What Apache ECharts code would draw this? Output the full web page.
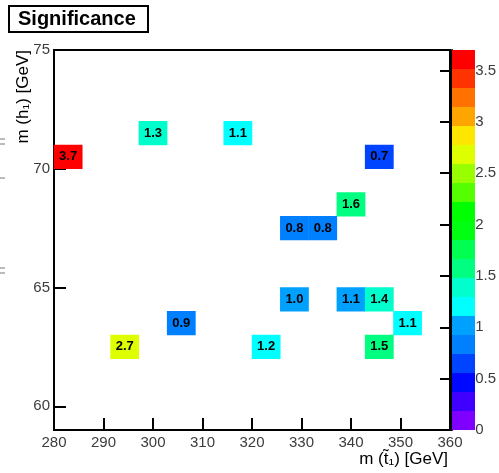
<!DOCTYPE html>
<html><head><meta charset="utf-8">
<script src="https://cdn.jsdelivr.net/npm/echarts@6/dist/echarts.min.js"></script>
<style>html,body{margin:0;padding:0;background:#fff}#c{width:499px;height:473px}</style>
</head><body><div id="c"></div>
<script>
// ---- data ----
const xBins = ['280.0','285.7','291.4','297.1','302.9','308.6','314.3','320.0','325.7','331.4','337.1','342.9','348.6','354.3'];
const yBins = ['59','60','61','62','63','64','65','66','67','68','69','70','71','72','73','74'];
const cellX = [0, 3, 6, 11, 10, 8, 9, 8, 10, 11, 12, 11, 7, 2, 4];
const cellY = ['70','71','71','70','68','67','67','64','64','64','63','62','62','62','63'];
const cellValue = [3.70, 1.32, 1.13, 0.70, 1.58, 0.82, 0.78, 1.00, 1.08, 1.38, 1.12, 1.52, 1.20, 2.70, 0.90];
const xTicks = [280, 290, 300, 310, 320, 330, 340, 350, 360];
const yTicks = [60, 65, 70, 75];
const zTicks = [0, 0.5, 1, 1.5, 2, 2.5, 3, 3.5];
const zMax = 3.7;
const palette = ['#7f00ff','#3f00ff','#0008ff','#0044ff','#0080ff','#00a0ff','#00ffff','#00ffcc',
                 '#00ff80','#00ff50','#00ff10','#00ff00','#55ff00','#99ff00','#ddff00','#ffe600',
                 '#ffa500','#ff7200','#ff3300','#ff0000'];

const cells = cellX.map((x, i) => [x, yBins.indexOf(cellY[i]), cellValue[i]]);
const nLev = palette.length;
const pieces = palette.map((c, i) => ({min: zMax * i / nLev, max: zMax * (i + 1) / nLev, color: c}));

const FONT = 'Liberation Sans, Arial, sans-serif';
const labelGray = '#3c3c3c';

const chart = echarts.init(document.getElementById('c'), null, {renderer: 'canvas'});
chart.setOption({
  animation: false,
  backgroundColor: '#fff',
  grid: [
    {left: 54, top: 50, width: 396, height: 380, show: true, borderColor: '#000', borderWidth: 2, backgroundColor: 'transparent'},
    {left: 452, top: 50, width: 23, height: 380}
  ],
  xAxis: [
    {type: 'value', gridIndex: 0, min: xTicks[0], max: xTicks[xTicks.length - 1], interval: 10,
     axisLine: {show: true, onZero: false, lineStyle: {color: '#000', width: 2}},
     axisTick: {show: true, inside: true, length: 12, lineStyle: {color: '#000', width: 2}},
     axisLabel: {color: labelGray, fontSize: 15, fontFamily: FONT, margin: 5},
     splitLine: {show: false}},
    {type: 'category', gridIndex: 0, data: xBins, show: false, boundaryGap: true},
    {type: 'value', gridIndex: 1, show: false, min: 0, max: 1}
  ],
  yAxis: [
    {type: 'value', gridIndex: 0, min: 59, max: 75,
     axisLine: {show: true, onZero: false, lineStyle: {color: '#000', width: 2}},
     axisTick: {show: true, inside: true, length: 12, customValues: yTicks, lineStyle: {color: '#000', width: 2}},
     axisLabel: {color: labelGray, fontSize: 15, fontFamily: FONT, margin: 4, customValues: yTicks},
     splitLine: {show: false}},
    {type: 'category', gridIndex: 0, data: yBins, show: false, boundaryGap: true},
    {type: 'value', gridIndex: 1, position: 'right', min: 0, max: zMax, interval: 0.5,
     axisLine: {show: true, lineStyle: {color: '#000', width: 2}},
     axisTick: {show: true, inside: true, length: 12, lineStyle: {color: '#000', width: 2}},
     axisLabel: {color: labelGray, fontSize: 15, fontFamily: FONT, margin: 3, showMaxLabel: false},
     splitLine: {show: false}}
  ],
  visualMap: {
    type: 'piecewise', pieces: pieces, seriesIndex: 0, dimension: 2,
    left: 452, top: 50, padding: 0, itemWidth: 23, itemHeight: 19, itemGap: 0,
    itemSymbol: 'rect', showLabel: false, selectedMode: false, orient: 'vertical'
  },
  series: [{
    type: 'heatmap', xAxisIndex: 1, yAxisIndex: 1, data: cells,
    label: {show: true, color: '#000', fontSize: 13, fontWeight: 'bold', fontFamily: FONT,
            formatter: p => p.value[2].toFixed(1)},
    emphasis: {disabled: true}
  }],
  graphic: [
    {type: 'rect', shape: {x: 9, y: 6, width: 139, height: 26}, style: {fill: '#fff', stroke: '#000', lineWidth: 2}},
    {type: 'text', x: 18, y: 19, style: {text: 'Significance', font: 'bold 20px ' + FONT, fill: '#000', textAlign: 'left', textVerticalAlign: 'middle'}},
    {type: 'text', x: 448, y: 459, style: {text: 'm (t\u0303\u2081) [GeV]', font: '17px ' + FONT, fill: '#000', textAlign: 'right', textVerticalAlign: 'middle'}},
    {type: 'text', x: 23, y: 50, rotation: Math.PI / 2, style: {text: 'm (h\u2081) [GeV]', font: '17px ' + FONT, fill: '#000', textAlign: 'right', textVerticalAlign: 'middle'}},
    {type: 'line', shape: {x1: 0, y1: 139, x2: 5, y2: 139}, style: {stroke: '#777', lineWidth: 1}},
    {type: 'line', shape: {x1: 0, y1: 144, x2: 5, y2: 144}, style: {stroke: '#777', lineWidth: 1}},
    {type: 'line', shape: {x1: 0, y1: 178, x2: 5, y2: 178}, style: {stroke: '#777', lineWidth: 1}},
    {type: 'line', shape: {x1: 0, y1: 268, x2: 5, y2: 268}, style: {stroke: '#777', lineWidth: 1}},
    {type: 'line', shape: {x1: 0, y1: 273, x2: 5, y2: 273}, style: {stroke: '#777', lineWidth: 1}}
  ]
});
</script></body></html>
